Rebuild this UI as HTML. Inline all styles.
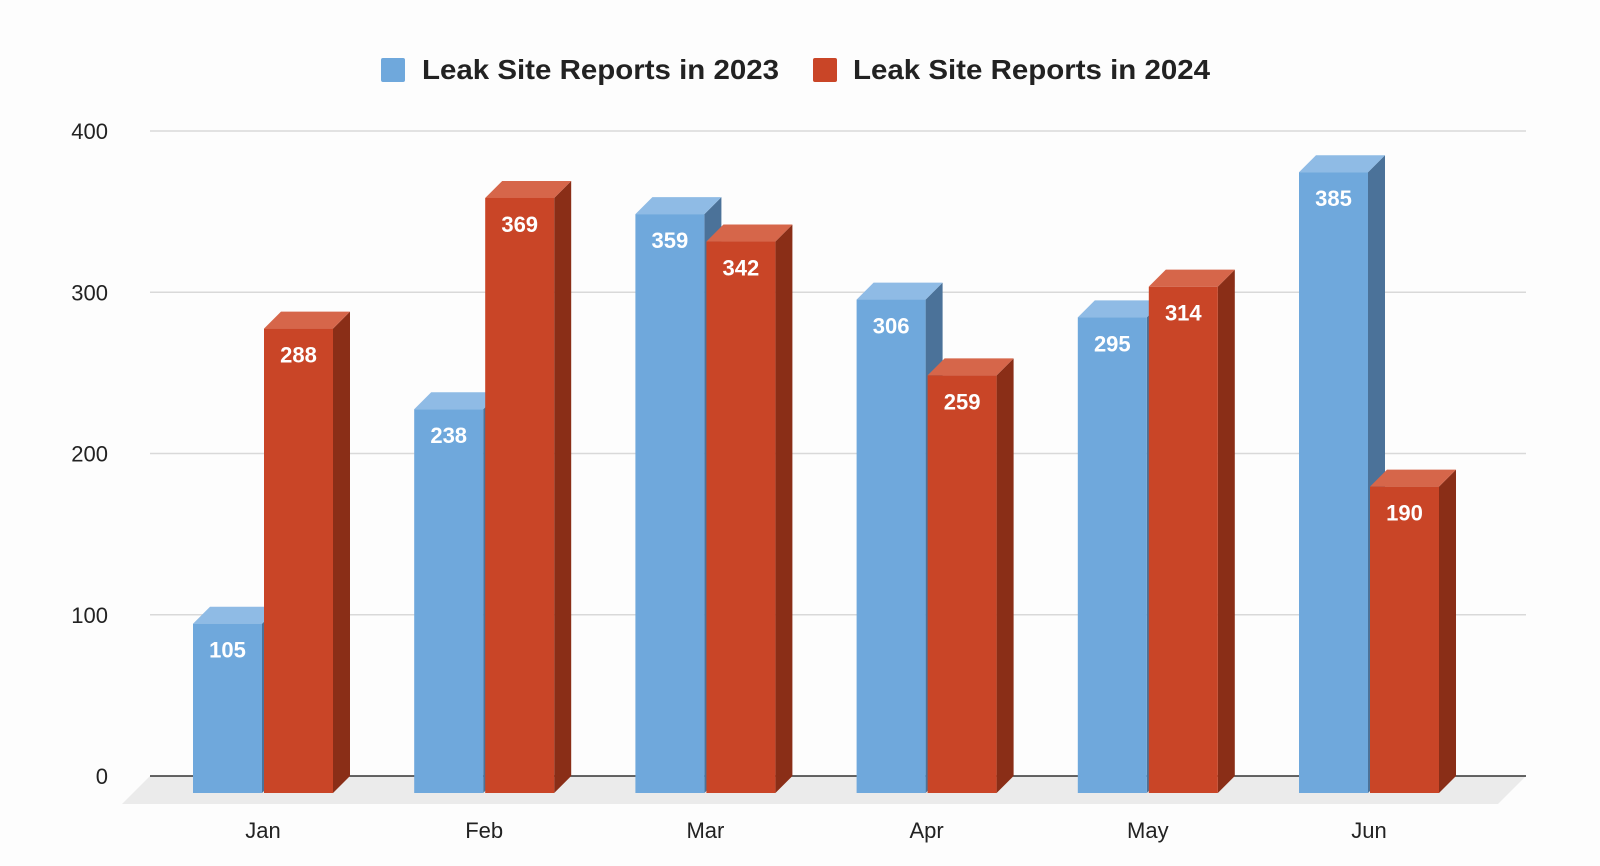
<!DOCTYPE html>
<html><head><meta charset="utf-8"><style>
html,body{margin:0;padding:0;background:#fff;}
svg{display:block;font-family:"Liberation Sans",Arial,sans-serif;}
</style></head><body>
<svg id="chart" width="1600" height="866" viewBox="0 0 1600 866">
<rect x="0" y="0" width="1600" height="866" fill="#fdfdfd"/>
<g>
 <rect x="381" y="58" width="24" height="24" rx="2" fill="#6fa8dc"/>
 <text x="422" y="79" font-size="28" font-weight="bold" fill="#222" textLength="357" lengthAdjust="spacingAndGlyphs">Leak Site Reports in 2023</text>
 <rect x="813" y="58" width="24" height="24" rx="2" fill="#c94527"/>
 <text x="853" y="79" font-size="28" font-weight="bold" fill="#222" textLength="357" lengthAdjust="spacingAndGlyphs">Leak Site Reports in 2024</text>
</g>
<g id="grid"></g>
<g id="bars"></g>
</svg>
<script>
const categories = ["Jan","Feb","Mar","Apr","May","Jun"];
const series2023 = [105,238,359,306,295,385];
const series2024 = [288,369,342,259,314,190];
const yTicks = [0,100,200,300,400];

const NS = "http://www.w3.org/2000/svg";
const y0 = 776, yTop = 131, vMax = 400;
const yScale = v => y0 - (v / vMax) * (y0 - yTop);
const groupStart = 193, groupStep = 221.2, barW = 69, gap = 2, depth = 17;
const xScale = (i, s) => groupStart + i * groupStep + s * (barW + gap);

function mk(tag, attrs, parent) {
  const e = document.createElementNS(NS, tag);
  for (const k in attrs) e.setAttribute(k, attrs[k]);
  parent.appendChild(e);
  return e;
}
const grid = document.getElementById('grid');
const bars = document.getElementById('bars');

const floor = mk('polygon', {points: `150,${y0} 1526,${y0} 1498,${y0+28} 122,${y0+28}`, fill: '#ebebeb'}, grid);



yTicks.forEach(t => {
  const y = yScale(t);
  const ln = mk('line', {x1: 150, x2: 1526, y1: y, y2: y, stroke: t === 0 ? '#333' : '#d9d9d9', 'stroke-width': 1.5}, grid);
  
  
  const tx = mk('text', {x: 108, y: y + 8, 'font-size': 22, 'text-anchor': 'end', fill: '#222'}, grid);
  tx.textContent = t;
  
  
});

const colors = [
  {front: '#6fa8dc', top: '#8fbbe5', side: '#4b7299'},
  {front: '#c94527', top: '#d6664a', side: '#8a2e17'}
];
const bottom = y0 + depth;
categories.forEach((c, i) => {
  [series2023, series2024].forEach((ser, s) => {
    const v = ser[i];
    const x = xScale(i, s);
    const yt = yScale(v) + depth;
    const col = colors[s];
    const g = mk('g', {}, bars);
    
    
    mk('polygon', {points: `${x+barW},${yt} ${x+barW+depth},${yt-depth} ${x+barW+depth},${bottom-depth} ${x+barW},${bottom}`, fill: col.side}, g);
    mk('polygon', {points: `${x},${yt} ${x+depth},${yt-depth} ${x+barW+depth},${yt-depth} ${x+barW},${yt}`, fill: col.top}, g);
    mk('rect', {x: x, y: yt, width: barW, height: bottom - yt, fill: col.front}, g);
    const lbl = mk('text', {x: x + barW / 2, y: yt + 34, 'font-size': 22, 'font-weight': 'bold', 'text-anchor': 'middle', fill: '#fff'}, g);
    lbl.textContent = v;
    
    
  });
  const cx = xScale(i, 0) + barW + gap / 2;
  const ct = mk('text', {x: cx, y: 838, 'font-size': 22, 'text-anchor': 'middle', fill: '#222'}, grid);
  ct.textContent = c;
  
  
});
</script>
</body></html>
